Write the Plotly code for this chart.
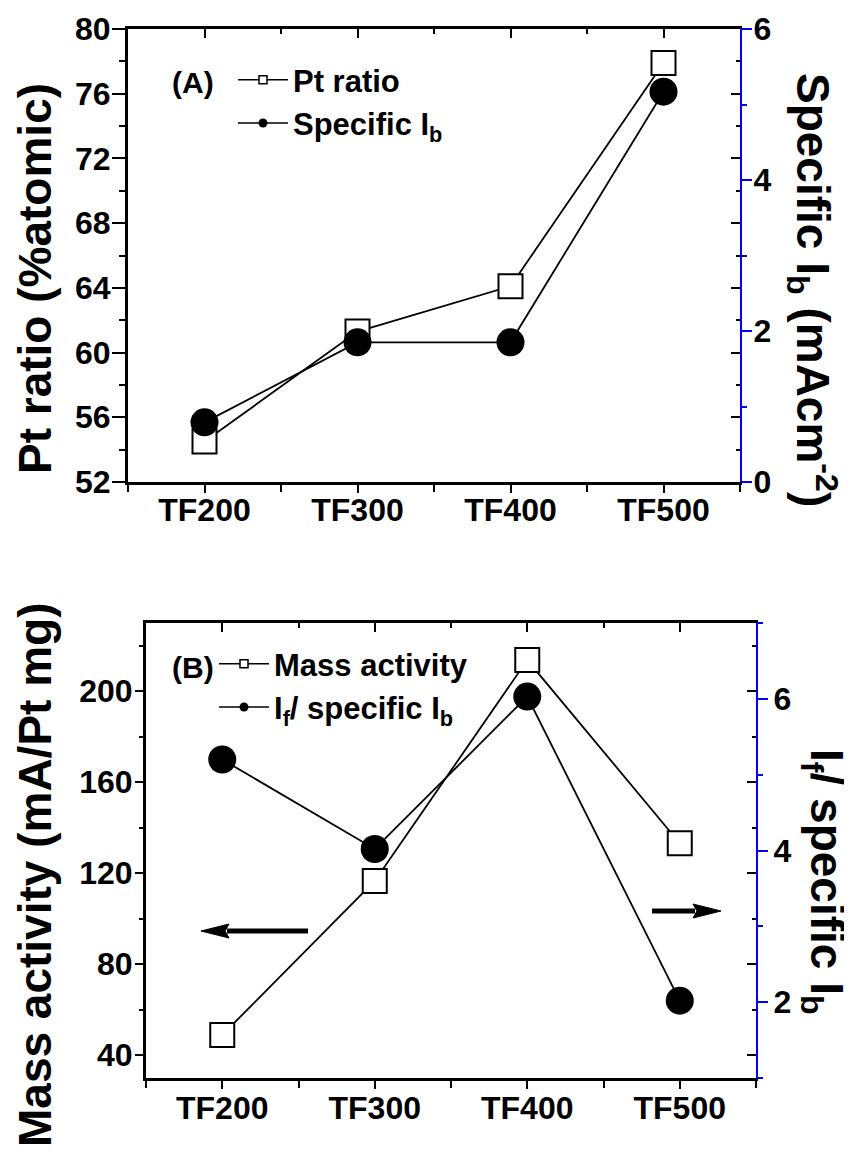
import plotly.graph_objects as go

W, H = 852, 1154
OFF = 8  # page body margin shifts the figure by this many pixels

# ---------------- data ----------------
categories = ["TF200", "TF300", "TF400", "TF500"]
cat_pos = [0, 1, 2, 3]

pt_ratio = [54.5, 61.3, 64.1, 77.9]          # %atomic, left axis (A)
specific_ib = [0.79, 1.85, 1.85, 5.17]        # mA cm^-2, right axis (A)

mass_activity = [48.9, 116.6, 213.7, 133.2]   # mA/Pt mg, left axis (B)
if_over_ib = [5.2, 4.02, 6.03, 2.02]          # right axis (B)

ptA_ticks = [52, 56, 60, 64, 68, 72, 76, 80]
ptA_minor = [54, 58, 62, 66, 70, 74, 78]
ibA_ticks = [0, 2, 4, 6]
ibA_minor = [1, 3, 5]
maB_ticks = [40, 80, 120, 160, 200]
maB_minor = [60, 100, 140, 180, 220]
rB_ticks = [2, 4, 6]
rB_minor = [1, 3, 5, 7]


def fx(px):
    return (px - OFF) / W


def fy(py):
    return 1 - (py - OFF) / H


FONT = "Liberation Sans, Arial, sans-serif"
tickfont = dict(family=FONT, size=32, color="black", weight="bold")
BLUE = "#0000FF"

xA = [fx(128), fx(740)]
yA = [fy(482), fy(29)]
xB = [fx(146), fx(756)]
yB = [fy(1078), fy(623)]

fig = go.Figure()

sq = dict(symbol="square", size=24, color="white", line=dict(color="black", width=2))
ci = dict(symbol="circle", size=28, color="black")
ln = dict(color="black", width=1.8)

# Panel A
fig.add_trace(go.Scatter(x=cat_pos, y=pt_ratio, mode="lines+markers", marker=sq, line=ln,
                         xaxis="x", yaxis="y", showlegend=False))
fig.add_trace(go.Scatter(x=cat_pos, y=specific_ib, mode="lines+markers", marker=ci, line=ln,
                         xaxis="x", yaxis="y2", showlegend=False))
# Panel B
fig.add_trace(go.Scatter(x=cat_pos, y=mass_activity, mode="lines+markers", marker=sq, line=ln,
                         xaxis="x2", yaxis="y4", showlegend=False))
fig.add_trace(go.Scatter(x=cat_pos, y=if_over_ib, mode="lines+markers", marker=ci, line=ln,
                         xaxis="x2", yaxis="y5", showlegend=False))

# legend entries (small symbols)
lsq = dict(symbol="square", size=8, color="white", line=dict(color="black", width=1.5))
lci = dict(symbol="circle", size=9, color="black")
lln = dict(color="black", width=1.5)
fig.add_trace(go.Scatter(x=[None], y=[None], mode="lines+markers", marker=lsq, line=lln,
                         name="Pt ratio", legend="legend", xaxis="x", yaxis="y"))
fig.add_trace(go.Scatter(x=[None], y=[None], mode="lines+markers", marker=lci, line=lln,
                         name="Specific I<sub>b</sub>", legend="legend", xaxis="x", yaxis="y"))
fig.add_trace(go.Scatter(x=[None], y=[None], mode="lines+markers", marker=lsq, line=lln,
                         name="Mass activity", legend="legend2", xaxis="x2", yaxis="y4"))
fig.add_trace(go.Scatter(x=[None], y=[None], mode="lines+markers", marker=lci, line=lln,
                         name="I<sub>f</sub>/ specific I<sub>b</sub>", legend="legend2",
                         xaxis="x2", yaxis="y4"))

# dummy traces for overlay axes (ticks only)
for xa, ya in [("x3", "y"), ("x", "y3"), ("x4", "y4"), ("x2", "y6")]:
    fig.add_trace(go.Scatter(x=[None], y=[None], xaxis=xa, yaxis=ya, showlegend=False,
                             hoverinfo="skip"))


def xbottom(domain, anchor, so):
    return dict(domain=domain, anchor=anchor, range=[-0.5, 3.5], tickmode="array",
                tickvals=cat_pos, ticktext=categories, ticks="outside", ticklen=8,
                tickwidth=2, tickcolor="black", showline=True, linewidth=3,
                linecolor="black", showgrid=False, zeroline=False, tickfont=tickfont,
                automargin=False, ticklabelstandoff=so,
                minor=dict(tickmode="array", tickvals=[-0.5, 0.5, 1.5, 2.5, 3.5],
                           ticks="outside", ticklen=7, tickwidth=2, tickcolor="black",
                           showgrid=False))


def xtop(over, anchor):
    return dict(overlaying=over, side="top", anchor=anchor, range=[-0.5, 3.5],
                tickmode="array", tickvals=cat_pos, ticks="inside", ticklen=9,
                tickwidth=2, tickcolor="black", showticklabels=False, showline=True,
                linewidth=3, linecolor="black", showgrid=False, zeroline=False,
                automargin=False,
                minor=dict(tickmode="array", tickvals=[0.5, 1.5, 2.5], ticks="inside",
                           ticklen=5, tickwidth=2, tickcolor="black", showgrid=False))


def yleft(domain, anchor, rng, tv, mv, tl, ml, so):
    return dict(domain=domain, anchor=anchor, range=rng, tickmode="array", tickvals=tv,
                ticks="outside", ticklen=tl, tickwidth=2, tickcolor="black",
                showline=True, linewidth=3, linecolor="black", showgrid=False,
                zeroline=False, tickfont=tickfont, automargin=False,
                ticklabelstandoff=so,
                minor=dict(tickmode="array", tickvals=mv, ticks="outside", ticklen=ml,
                           tickwidth=2, tickcolor="black", showgrid=False))


def yright(over, anchor, rng, tv, mv, so):
    return dict(overlaying=over, side="right", anchor=anchor, range=rng, tickmode="array",
                tickvals=tv, ticks="outside", ticklen=10, tickwidth=2, tickcolor=BLUE,
                showline=True, linewidth=2, linecolor=BLUE, showgrid=False,
                zeroline=False, tickfont=tickfont, automargin=False,
                ticklabelstandoff=so,
                minor=dict(tickmode="array", tickvals=mv, ticks="outside", ticklen=5,
                           tickwidth=2, tickcolor=BLUE, showgrid=False))


def ymirror(over, anchor, rng, tv, mv):
    return dict(overlaying=over, side="right", anchor=anchor, range=rng, tickmode="array",
                tickvals=tv, ticks="inside", ticklen=9, tickwidth=2, tickcolor="black",
                showline=False, showticklabels=False, showgrid=False, zeroline=False,
                automargin=False,
                minor=dict(tickmode="array", tickvals=mv, ticks="inside", ticklen=4,
                           tickwidth=2, tickcolor="black", showgrid=False))


legfont = dict(family=FONT, size=31, color="black", weight="bold")

fig.update_layout(
    width=W, height=H, autosize=False,
    margin=dict(l=0, r=0, t=0, b=0, pad=0, autoexpand=False),
    paper_bgcolor="white", plot_bgcolor="rgba(0,0,0,0)",
    xaxis=xbottom(xA, "y", -10),
    yaxis=yleft(yA, "x", [52, 80], ptA_ticks, ptA_minor, 13, 6, -5),
    yaxis2=yright("y", "x", [0, 6], ibA_ticks, ibA_minor, -5),
    xaxis3=xtop("x", "y"),
    yaxis3=ymirror("y", "x", [52, 80], ptA_ticks, ptA_minor),
    xaxis2=xbottom(xB, "y4", -8),
    yaxis4=yleft(yB, "x2", [30, 230], maB_ticks, maB_minor, 8, 4, -4),
    yaxis5=yright("y4", "x2", [1, 7], rB_ticks, rB_minor, -1),
    xaxis4=xtop("x2", "y4"),
    yaxis6=ymirror("y4", "x2", [30, 230], maB_ticks, maB_minor),
    legend=dict(x=fx(233), y=fy(53), xanchor="left", yanchor="top", font=legfont,
                bgcolor="rgba(0,0,0,0)", tracegroupgap=0, itemwidth=50),
    legend2=dict(x=fx(214), y=fy(637), xanchor="left", yanchor="top", font=legfont,
                 bgcolor="rgba(0,0,0,0)", tracegroupgap=0, itemwidth=50),
    showlegend=True,
)

titlefont = dict(family=FONT, size=46, color="black", weight="bold")
labfont = dict(family=FONT, size=30, color="black", weight="bold")

annotations = [
    dict(text="Pt ratio (%atomic)", x=fx(35), y=fy(279), textangle=-90, font=titlefont),
    dict(text="Specific I<sub>b</sub> (mAcm<sup>-2</sup>)", x=fx(812), y=fy(290),
         textangle=90, font=titlefont),
    dict(text="Mass activity (mA/Pt mg)", x=fx(35), y=fy(875), textangle=-90,
         font=titlefont),
    dict(text="I<sub>f</sub>/ specific I<sub>b</sub>", x=fx(824), y=fy(882), textangle=90,
         font=titlefont),
    dict(text="(A)", x=fx(193), y=fy(82), font=labfont),
    dict(text="(B)", x=fx(193), y=fy(668), font=labfont),
]
for a in annotations:
    a.update(xref="paper", yref="paper", xanchor="center", yanchor="middle",
             showarrow=False)
fig.update_layout(annotations=annotations)


# arrows indicating axes in panel B (decorations drawn as shapes)
def arrow(x_tail, x_tip, y, head_len=28, head_half=7, width=5):
    d = 1 if x_tip > x_tail else -1
    base = x_tip - d * head_len
    fig.add_shape(type="line", xref="paper", yref="paper",
                  x0=fx(x_tail), x1=fx(base + d * 2), y0=fy(y), y1=fy(y),
                  line=dict(color="black", width=width))
    path = (f"M{fx(x_tip)},{fy(y)} L{fx(base)},{fy(y - head_half)} "
            f"L{fx(base + d * 4)},{fy(y)} L{fx(base)},{fy(y + head_half)} Z")
    fig.add_shape(type="path", xref="paper", yref="paper", path=path,
                  fillcolor="black", line=dict(color="black", width=1))


arrow(308, 201, 931)
arrow(652, 721, 911)

fig.write_html("out.html")
